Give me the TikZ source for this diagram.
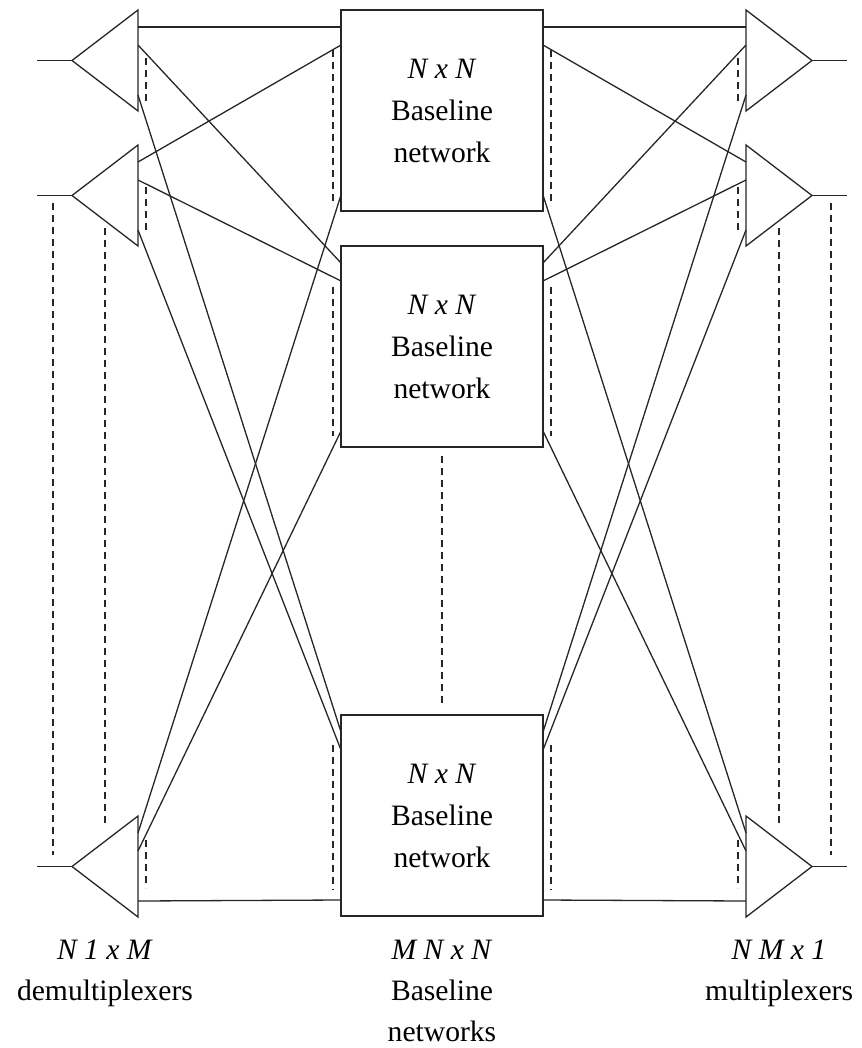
\documentclass[tikz,border=0pt]{standalone}
\usepackage{fontspec}
\setmainfont{Liberation Serif}
\tikzset{
  wire/.style={line width=1.3pt, draw=black!85},
  guide/.style={line width=1.3pt, draw=black!85, dash pattern=on 7pt off 5pt},
  net/.style={wire, rectangle, minimum width=202pt, minimum height=201pt,
    inner sep=0pt, align=center, font=\fontsize{29.6}{42}\selectfont},
  caption/.style={align=center, inner sep=0pt, anchor=north,
    font=\fontsize{29.6}{41}\selectfont}
}
\begin{document}
\begin{tikzpicture}[x=1pt,y=-1pt]
    \useasboundingbox (0,0) rectangle (861,1048);

    %baseline networks
    \foreach \i/\t in {1/10,2/246,3/715} {
        \node[net] (net\i) at (442,\t+100.5) {\textit{N x N}\\Baseline\\network};
        \coordinate (net\i-in1) at (341,\t+17);
        \coordinate (net\i-in2) at (341,\t+35);
        \coordinate (net\i-in3) at (341,\t+185);
        \coordinate (net\i-out1) at (543,\t+17);
        \coordinate (net\i-out2) at (543,\t+35);
        \coordinate (net\i-out3) at (543,\t+185);
    }

    %demultiplexers
    \foreach \i/\t in {1/10,2/145,3/816} {
        \draw[wire] (138,\t) -- (72,\t+50.5) -- (138,\t+101) -- cycle;
        \coordinate (dmx\i) at (72,\t+50.5);
        \coordinate (dmx\i-in) at (37,\t+50.5);
        \draw[wire] (dmx\i-in) -- (dmx\i);
        \coordinate (dmx\i-1) at (138,\t+17);
        \coordinate (dmx\i-2) at (138,\t+35);
        \coordinate (dmx\i-3) at (138,\t+85);
    }

    %multiplexers
    \foreach \i/\t in {1/10,2/145,3/816} {
        \draw[wire] (746,\t) -- (812,\t+50.5) -- (746,\t+101) -- cycle;
        \coordinate (mux\i) at (812,\t+50.5);
        \coordinate (mux\i-out) at (847,\t+50.5);
        \draw[wire] (mux\i) -- (mux\i-out);
        \coordinate (mux\i-1) at (746,\t+17);
        \coordinate (mux\i-2) at (746,\t+35);
        \coordinate (mux\i-3) at (746,\t+85);
    }

    %links
    \foreach \i in {1,2,3}
        \foreach \j in {1,2,3} {
            \draw[wire] (dmx\i-\j) -- (net\j-in\i);
            \draw[wire] (net\j-out\i) -- (mux\i-\j);
        }

    %dots (dashed)
    \foreach \a/\b in {58/103,187/232,840/888} {
        \draw[guide] (146,\a) -- (146,\b);
        \draw[guide] (738,\a) -- (738,\b);
    }
    \foreach \a/\b in {50/206,287/436,745/890} {
        \draw[guide] (333,\a) -- (333,\b);
        \draw[guide] (551,\a) -- (551,\b);
    }
    \draw[guide] (53,203) -- (53,855);
    \draw[guide] (105,228) -- (105,827);
    \draw[guide] (831,203) -- (831,855);
    \draw[guide] (779,228) -- (779,827);
    \draw[guide] (442,456) -- (442,705);

    %labels
    \node[caption] (dmx-label) at (105,940) {\textit{N 1 x M}\\demultiplexers};
    \node[caption] (net-label) at (442,940) {\textit{M N x N}\\Baseline\\networks};
    \node[caption] (mux-label) at (779,940) {\textit{N M x 1}\\multiplexers};

\end{tikzpicture}
\end{document}
